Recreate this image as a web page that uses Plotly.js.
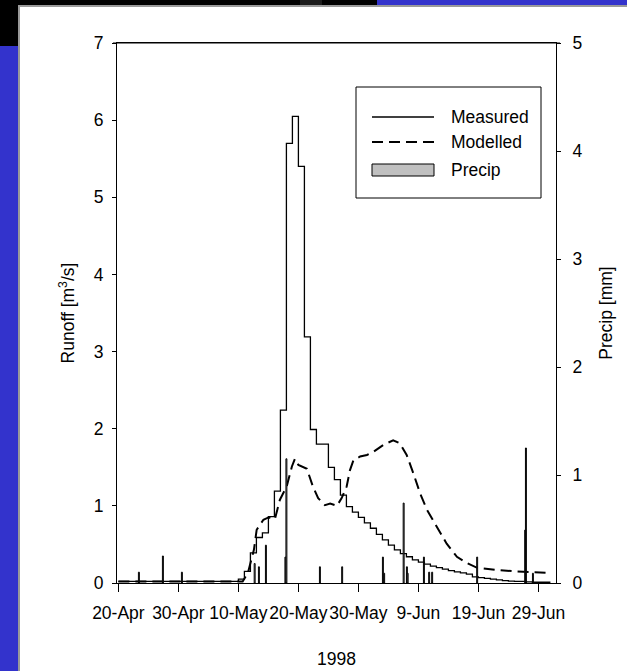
<!DOCTYPE html>
<html>
<head>
<meta charset="utf-8">
<script src="https://cdn.plot.ly/plotly-3.0.1.min.js"></script>
<style>
  html, body { margin: 0; padding: 0; background: #ffffff; }
  #chart { width: 627px; height: 671px; }
</style>
</head>
<body>
<div id="chart"></div>
<script>
// ---------------- DATA ----------------
// Measured runoff [m3/s], one value per day starting 20-Apr-1998 (stepped)
const measuredStart = '1998-04-20';
const measuredRunoff = [
  0.02, 0.02, 0.02, 0.02, 0.02, 0.02, 0.02, 0.02, 0.02, 0.02,
  0.02, 0.02, 0.02, 0.02, 0.02, 0.02, 0.02, 0.02, 0.02, 0.02,
  0.05, 0.15, 0.39, 0.59, 0.65, 0.86, 1.19, 2.24, 5.70, 6.05,
  5.40, 3.19, 1.99, 1.80, 1.80, 1.50, 1.34, 1.14, 0.99, 0.92,
  0.85, 0.78, 0.71, 0.63, 0.56, 0.49, 0.43, 0.38, 0.34, 0.30,
  0.27, 0.245, 0.22, 0.20, 0.18, 0.16, 0.145, 0.13, 0.115, 0.08,
  0.07, 0.06, 0.05, 0.04, 0.03, 0.025, 0.02, 0.02, 0.015, 0.01,
  0.01, 0.01
];

// Modelled runoff [m3/s]
const modelledTime = [
  '1998-04-20 00:00', '1998-05-10 17:00', '1998-05-11 14:00', '1998-05-12 05:00',
  '1998-05-12 14:00', '1998-05-13 01:00', '1998-05-13 12:00', '1998-05-14 04:00',
  '1998-05-15 00:00', '1998-05-16 02:00', '1998-05-16 22:00', '1998-05-18 01:00',
  '1998-05-18 22:00', '1998-05-19 10:00', '1998-05-20 00:00', '1998-05-21 10:00',
  '1998-05-22 10:00', '1998-05-23 07:00', '1998-05-24 10:00', '1998-05-25 07:00',
  '1998-05-26 10:00', '1998-05-27 05:00', '1998-05-28 01:00', '1998-05-28 14:00',
  '1998-05-29 04:00', '1998-05-30 07:00', '1998-05-31 10:00', '1998-06-01 12:00',
  '1998-06-03 04:00', '1998-06-04 19:00', '1998-06-05 22:00', '1998-06-07 01:00',
  '1998-06-08 04:00', '1998-06-09 07:00', '1998-06-10 10:00', '1998-06-12 01:00',
  '1998-06-13 17:00', '1998-06-15 10:00', '1998-06-17 01:00', '1998-06-18 17:00',
  '1998-06-22 01:00', '1998-06-25 10:00', '1998-06-27 14:00', '1998-06-30 22:00'
];
const modelledRunoff = [
  0.02, 0.02, 0.13, 0.30,
  0.43, 0.69, 0.75, 0.82,
  0.85, 0.83, 1.08, 1.25,
  1.51, 1.61, 1.53, 1.48,
  1.25, 1.10, 1.01, 1.03,
  1.00, 1.10, 1.25, 1.46,
  1.59, 1.64, 1.66, 1.70,
  1.79, 1.85, 1.81, 1.66,
  1.42, 1.16, 0.95, 0.73,
  0.51, 0.34, 0.26, 0.20,
  0.17, 0.15, 0.14, 0.13
];

// Precipitation [mm]
const precipTime = [
  '1998-04-23 10:00', '1998-04-27 10:00', '1998-04-30 14:00', '1998-05-12 17:00',
  '1998-05-13 10:00', '1998-05-14 14:00', '1998-05-17 20:00', '1998-05-18 00:00',
  '1998-05-23 14:00', '1998-05-27 07:00', '1998-06-03 02:00', '1998-06-03 07:00',
  '1998-06-06 13:00', '1998-06-07 02:00', '1998-06-07 05:00', '1998-06-09 22:00',
  '1998-06-10 19:00', '1998-06-11 07:00', '1998-06-18 19:00', '1998-06-26 19:00',
  '1998-06-26 22:00', '1998-06-28 02:00'
];
const precipMm = [
  0.10, 0.25, 0.10, 0.18,
  0.15, 0.35, 0.24, 1.15,
  0.15, 0.15, 0.24, 0.09,
  0.74, 0.15, 0.09, 0.24,
  0.10, 0.10, 0.24, 0.49,
  1.25, 0.09
];

// Axis ticks
const xTickDates = ['1998-04-20', '1998-04-30', '1998-05-10', '1998-05-20',
                    '1998-05-30', '1998-06-09', '1998-06-19', '1998-06-29'];
const xTickLabels = ['20-Apr', '30-Apr', '10-May', '20-May',
                     '30-May', '9-Jun', '19-Jun', '29-Jun'];

const legendLabels = ['Measured', 'Modelled', 'Precip'];

// ---------------- BUILD ----------------
function addDays(isoDate, n) {
  const d = new Date(isoDate + 'T00:00:00Z');
  d.setUTCDate(d.getUTCDate() + n);
  return d.toISOString().slice(0, 10);
}
const measuredX = measuredRunoff.map((_, i) => addDays(measuredStart, i));
// close the last daily step at the end of the final day
const measuredXStep = measuredX.concat([addDays(measuredStart, measuredRunoff.length)]);
const measuredYStep = measuredRunoff.concat([measuredRunoff[measuredRunoff.length - 1]]);

const FONT = 'Liberation Sans, Arial, Helvetica, sans-serif';
const FS = 17.5;
const DAY = 86400000;

const traces = [
  {
    type: 'bar', name: legendLabels[2],
    x: precipTime, y: precipMm, yaxis: 'y2',
    width: 0.16 * DAY,
    marker: { color: '#c0c0c0', line: { color: '#000000', width: 1 } },
    hoverinfo: 'x+y'
  },
  {
    type: 'scatter', mode: 'lines', name: legendLabels[0],
    x: measuredXStep, y: measuredYStep,
    line: { color: '#000000', width: 1.3, shape: 'hv' }
  },
  {
    type: 'scatter', mode: 'lines', name: legendLabels[1],
    x: modelledTime, y: modelledRunoff,
    line: { color: '#000000', width: 2, dash: '11px,6px' }
  }
];

// pixel -> paper helpers (plot area: x 117..556, y 43..583)
const L = 117, R = 556, T = 43, B = 583;
const px = v => (v - L) / (R - L);
const py = v => (B - v) / (B - T);

const shapes = [
  // slide background pieces
  { type: 'rect', layer: 'below', xref: 'paper', yref: 'paper', x0: px(0), x1: px(377), y0: py(5), y1: py(-2), fillcolor: '#000000', line: { width: 0 } },
  { type: 'rect', layer: 'below', xref: 'paper', yref: 'paper', x0: px(300), x1: px(322), y0: py(5), y1: py(-2), fillcolor: '#1c1c1c', line: { width: 0 } },
  { type: 'rect', layer: 'below', xref: 'paper', yref: 'paper', x0: px(-2), x1: px(18), y0: py(46), y1: py(-2), fillcolor: '#000000', line: { width: 0 } },
  { type: 'rect', layer: 'below', xref: 'paper', yref: 'paper', x0: px(18), x1: px(630), y0: py(675), y1: py(5), fillcolor: '#9a9a9a', line: { width: 0 } },
  { type: 'rect', layer: 'below', xref: 'paper', yref: 'paper', x0: px(20), x1: px(630), y0: py(675), y1: py(7), fillcolor: '#ffffff', line: { width: 0 } },
  // top frame line of the plot box (extends over the outer tick marks)
  { type: 'line', xref: 'paper', yref: 'paper', x0: px(113), x1: px(560), y0: 1, y1: 1, line: { color: '#000000', width: 1 } },
  // legend box
  { type: 'rect', xref: 'paper', yref: 'paper', x0: px(356), x1: px(541), y0: py(198), y1: py(87), fillcolor: '#ffffff', line: { color: '#000000', width: 1 } },
  { type: 'line', xref: 'paper', yref: 'paper', x0: px(372), x1: px(434), y0: py(117), y1: py(117), line: { color: '#000000', width: 1.3 } },
  { type: 'line', xref: 'paper', yref: 'paper', x0: px(372), x1: px(434), y0: py(142), y1: py(142), line: { color: '#000000', width: 2, dash: '11px,6px' } },
  { type: 'rect', xref: 'paper', yref: 'paper', x0: px(372), x1: px(434), y0: py(176), y1: py(164), fillcolor: '#c0c0c0', line: { color: '#000000', width: 1 } }
];

const annotations = [
  { xref: 'paper', yref: 'paper', x: px(449), y: py(117), xanchor: 'left', yanchor: 'middle', showarrow: false, text: legendLabels[0], font: { family: FONT, size: FS, color: '#000' } },
  { xref: 'paper', yref: 'paper', x: px(449), y: py(142), xanchor: 'left', yanchor: 'middle', showarrow: false, text: legendLabels[1], font: { family: FONT, size: FS, color: '#000' } },
  { xref: 'paper', yref: 'paper', x: px(449), y: py(170), xanchor: 'left', yanchor: 'middle', showarrow: false, text: legendLabels[2], font: { family: FONT, size: FS, color: '#000' } }
];

const layout = {
  width: 627, height: 671,
  margin: { l: L, r: 627 - R, t: T, b: 671 - B, pad: 0 },
  paper_bgcolor: '#3333cc',
  plot_bgcolor: 'rgba(0,0,0,0)',
  showlegend: false,
  font: { family: FONT, size: FS, color: '#000000' },
  bargap: 0,
  xaxis: {
    type: 'date',
    range: ['1998-04-19 18:24', '1998-07-01 22:20'],
    tickmode: 'array', tickvals: xTickDates, ticktext: xTickLabels,
    tickangle: 0,
    ticks: 'outside', ticklen: 8, tickwidth: 1, tickcolor: '#000',
    ticklabelstandoff: 6,
    showline: true, linecolor: '#000', linewidth: 1, mirror: true,
    showgrid: false, zeroline: false,
    tickfont: { family: FONT, size: FS, color: '#000' },
    title: { text: '1998', font: { family: FONT, size: FS, color: '#000' }, standoff: 30 },
    fixedrange: true
  },
  yaxis: {
    range: [0, 7], dtick: 1, tick0: 0,
    ticks: 'outside', ticklen: 4, tickwidth: 1, tickcolor: '#000',
    showline: true, linecolor: '#000', linewidth: 1,
    showgrid: false, zeroline: false,
    ticklabelstandoff: 5,
    tickfont: { family: FONT, size: FS, color: '#000' },
    title: { text: 'Runoff [m<sup>3</sup>/s]', font: { family: FONT, size: FS, color: '#000' }, standoff: 14 },
    fixedrange: true
  },
  yaxis2: {
    range: [0, 5], dtick: 1, tick0: 0,
    overlaying: 'y', side: 'right',
    ticks: 'outside', ticklen: 4, tickwidth: 1, tickcolor: '#000',
    showline: true, linecolor: '#000', linewidth: 1,
    showgrid: false, zeroline: false,
    ticklabelstandoff: 8,
    tickfont: { family: FONT, size: FS, color: '#000' },
    title: { text: 'Precip [mm]', font: { family: FONT, size: FS, color: '#000' }, standoff: 18 },
    fixedrange: true
  },
  shapes: shapes,
  annotations: annotations
};

Plotly.newPlot('chart', traces, layout, { displayModeBar: false, staticPlot: true });
</script>
</body>
</html>
